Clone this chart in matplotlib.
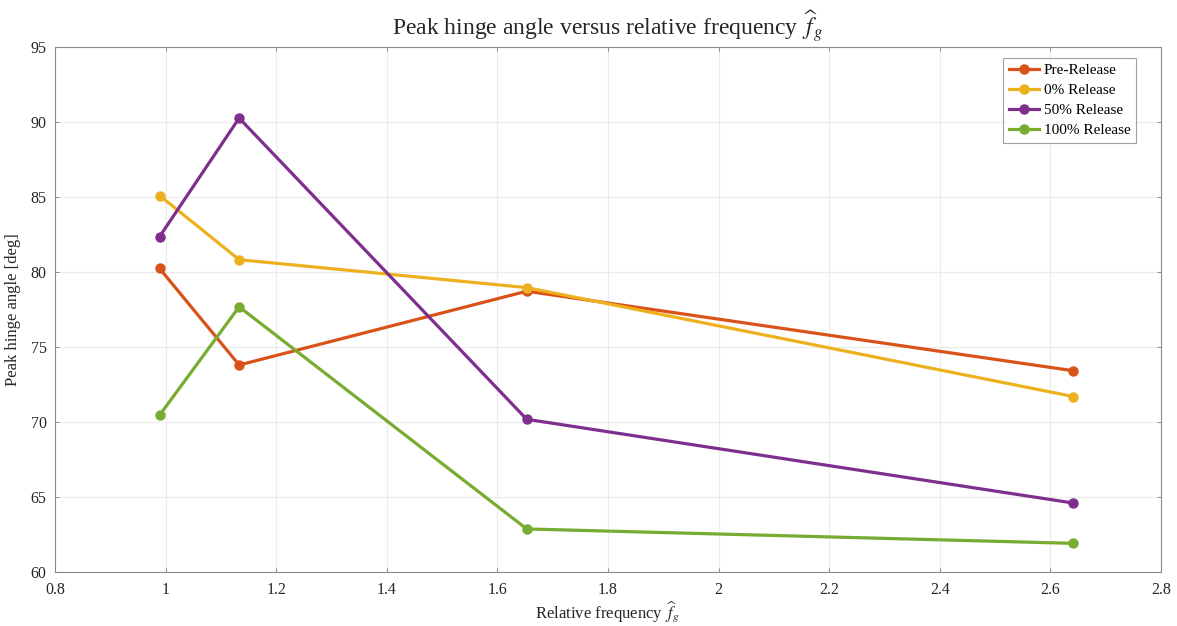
import matplotlib
matplotlib.use("Agg")
import matplotlib.pyplot as plt

plt.rcParams["font.family"] = ["Liberation Serif", "DejaVu Serif"]
plt.rcParams["mathtext.fontset"] = "stix"

# Relative frequency values and peak hinge angle per release condition
rel_freq = [0.989, 1.133, 1.653, 2.641]
pre_release = [80.24, 73.80, 78.72, 73.42]
release_0 = [85.10, 80.82, 78.96, 71.70]
release_50 = [82.35, 90.26, 70.18, 64.60]
release_100 = [70.45, 77.68, 62.87, 61.91]

series = [
    ("Pre-Release", pre_release, "#D95319"),
    ("0% Release", release_0, "#EDB120"),
    ("50% Release", release_50, "#7E2F8E"),
    ("100% Release", release_100, "#77AC30"),
]

fig = plt.figure(figsize=(11.77, 6.26), dpi=100)
ax = fig.add_axes([55 / 1177, 1 - 572 / 626, (1161 - 55) / 1177, (572 - 47) / 626])

for name, vals, color in series:
    ax.plot(rel_freq, vals, "-o", color=color, lw=2.3, ms=6.5, label=name)

ax.set_xlim(0.8, 2.8)
ax.set_ylim(60, 95)
ax.set_xticks([0.8, 1.0, 1.2, 1.4, 1.6, 1.8, 2.0, 2.2, 2.4, 2.6, 2.8])
ax.set_xticklabels(["0.8", "1", "1.2", "1.4", "1.6", "1.8", "2", "2.2", "2.4", "2.6", "2.8"])
ax.set_yticks(range(60, 96, 5))

ax.grid(True, color="#ebebeb", lw=0.8)
ax.set_axisbelow(True)
for s in ax.spines.values():
    s.set_color("#8a8a8a")
    s.set_linewidth(0.8)
ax.tick_params(direction="in", length=3, width=0.7, color="#8a8a8a",
               labelsize=11.5, labelcolor="#262626", top=True, right=True)
ax.tick_params(axis="x", pad=7)
ax.tick_params(axis="y", pad=6)

fhat = r"$\widehat{\,f\,}_{\!g}$"
ax.set_xlabel("Relative frequency " + fhat, fontsize=12, color="#262626", labelpad=1)
ax.set_ylabel("Peak hinge angle [deg]", fontsize=12, color="#262626", labelpad=7)
ax.set_title("Peak hinge angle versus relative frequency " + fhat,
             fontsize=17, color="#262626", pad=8)

leg = ax.legend(loc="upper right", bbox_to_anchor=(1 - 25 / 1106, 1 - 11 / 525),
                fontsize=11, frameon=True, fancybox=False, borderpad=0.35,
                labelspacing=0.42, handlelength=2.0, handletextpad=0.3,
                borderaxespad=0)
leg.get_frame().set_edgecolor("#8a8a8a")
leg.get_frame().set_linewidth(0.8)

fig.savefig("out.png", dpi=100, facecolor="white")
